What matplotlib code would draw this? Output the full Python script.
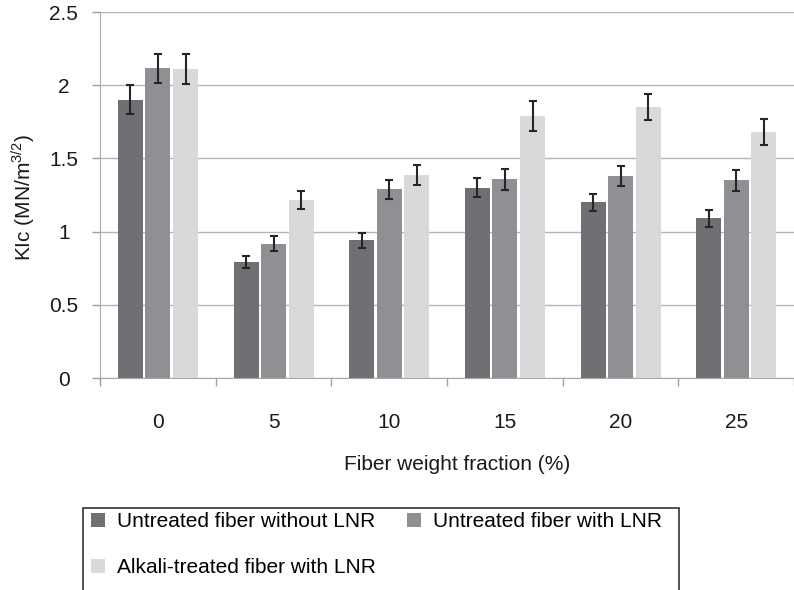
import numpy as np
import matplotlib
matplotlib.use('Agg')
import matplotlib.pyplot as plt
from matplotlib.patches import Rectangle

plt.rcParams['font.family'] = ['Liberation Sans', 'DejaVu Sans']

fractions = ['0', '5', '10', '15', '20', '25']
series_names = ['Untreated fiber without LNR', 'Untreated fiber with LNR',
                'Alkali-treated fiber with LNR']
no_lnr = [1.90, 0.79, 0.94, 1.30, 1.20, 1.09]
no_lnr_err = [0.10, 0.04, 0.05, 0.065, 0.06, 0.06]
with_lnr = [2.115, 0.917, 1.29, 1.357, 1.38, 1.35]
with_lnr_err = [0.10, 0.05, 0.065, 0.07, 0.07, 0.07]
alkali = [2.11, 1.216, 1.387, 1.79, 1.85, 1.68]
alkali_err = [0.105, 0.06, 0.07, 0.10, 0.09, 0.09]

colors = ['#6f6f74', '#8f8f94', '#d9d9db']
fs = 15

W, H = 794, 590
fig = plt.figure(figsize=(W / 100, H / 100), dpi=100)
ax = fig.add_axes([100 / W, (H - 378) / H, (W - 100) / W, (378 - 12) / H])

x = np.arange(len(fractions))
offsets = [-0.237, 0.0, 0.24]
values = [no_lnr, with_lnr, alkali]
errors = [no_lnr_err, with_lnr_err, alkali_err]
handles = []
for off, vals, errs, col, name in zip(offsets, values, errors, colors, series_names):
    b = ax.bar(x + off, vals, width=0.215, color=col, label=name, zorder=2)
    ax.errorbar(x + off, vals, yerr=errs, fmt='none', ecolor='#262626',
                elinewidth=1.5, capsize=3, capthick=1.5, zorder=3)
    handles.append(b)

ax.set_xlim(-0.5, -0.5 + (W - 100) / 117)
ax.set_ylim(0, 2.5)
ax.set_yticks([0, 0.5, 1, 1.5, 2, 2.5])
ax.set_yticklabels(['0', '0.5', '1', '1.5', '2', '2.5'])
ax.yaxis.grid(True, color='#b4b4b4', linewidth=1.0, zorder=0)
ax.set_axisbelow(True)

ax.set_xticks(x)
ax.set_xticklabels(fractions)
ax.set_xticks(np.arange(-0.5, len(fractions), 1.0), minor=True)
ax.tick_params(axis='x', which='major', length=0, pad=25, labelsize=fs, colors='#1a1a1a')
ax.tick_params(axis='x', which='minor', length=6, color='#a0a0a0', width=1)
ax.tick_params(axis='y', length=6, width=1, pad=20, labelsize=fs,
               color='#a0a0a0', labelcolor='#1a1a1a')
for lab in ax.get_yticklabels():
    lab.set_horizontalalignment('center')

for side in ['top', 'right']:
    ax.spines[side].set_visible(False)
ax.spines['left'].set_color('#a8a8a8')
ax.spines['bottom'].set_color('#a8a8a8')

fig.text(23 / W, 1 - 197 / H, 'KIc (MN/m$^{\\mathregular{3/2}}$)', rotation=90,
         ha='center', va='center', fontsize=fs, color='#1a1a1a')
fig.text(457 / W, 1 - 465 / H, 'Fiber weight fraction (%)', ha='center', va='center',
         fontsize=fs, color='#1a1a1a')

fig.patches.append(Rectangle((83 / W, -0.05), (679 - 83) / W, (H - 508) / H + 0.05,
                             transform=fig.transFigure, fill=False,
                             edgecolor='#333333', linewidth=1.2))
fig.legend([handles[0], handles[2], handles[1]],
           [series_names[0], series_names[2], series_names[1]],
           ncol=2, loc='upper left', bbox_to_anchor=(91 / W, 1 - 512 / H),
           frameon=False, borderpad=0, borderaxespad=0, fontsize=fs,
           handlelength=0.65, handleheight=0.65, handletextpad=0.6,
           columnspacing=1.5, labelspacing=1.3)

fig.savefig('out.png', dpi=100)
